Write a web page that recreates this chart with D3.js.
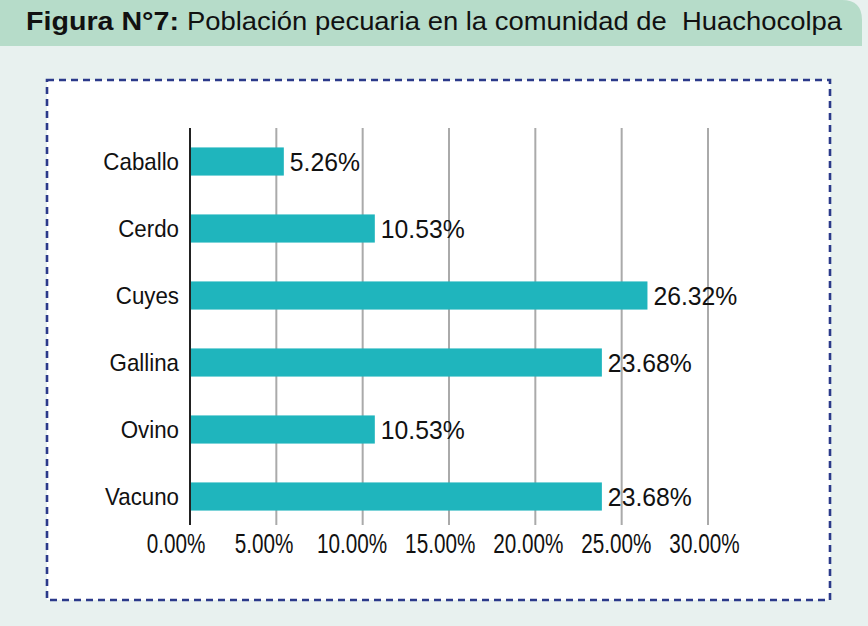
<!DOCTYPE html>
<html>
<head>
<meta charset="utf-8">
<script src="https://cdn.jsdelivr.net/npm/d3@7"></script>
<style>
  body { margin: 0; background: #e8f1ef; }
  text { font-family: "Liberation Sans", Arial, sans-serif; }
</style>
</head>
<body>
<script>
var categories = ["Caballo", "Cerdo", "Cuyes", "Gallina", "Ovino", "Vacuno"];
var values = [5.26, 10.53, 26.32, 23.68, 10.53, 23.68];
var ticks = [0, 5, 10, 15, 20, 25, 30];

var barColor = "#1fb5bd";
var headerColor = "#b6dcc9";
var bgColor = "#e8f1ef";
var dashColor = "#2b3a8a";

var width = 868, height = 626;

var svg = d3.select("body").append("svg")
    .attr("width", width)
    .attr("height", height);

svg.append("rect")
    .attr("width", width)
    .attr("height", height)
    .style("fill", bgColor);

// Header band with rounded top-right corner
svg.append("path")
    .attr("d", "M0,0 H842 Q862,0 862,20 V46 H0 Z")
    .style("fill", headerColor);

svg.append("text")
    .attr("x", 26)
    .attr("y", 30)
    .attr("textLength", 153)
    .attr("lengthAdjust", "spacingAndGlyphs")
    .style("font-size", "26px")
    .style("font-weight", "bold")
    .style("fill", "#111")
    .text("Figura N°7:");

svg.append("text")
    .attr("x", 187)
    .attr("y", 30)
    .attr("textLength", 655)
    .attr("lengthAdjust", "spacingAndGlyphs")
    .style("font-size", "26px")
    .style("fill", "#111")
    .style("white-space", "pre")
    .text("Población pecuaria en la comunidad de  Huachocolpa");

// Dashed box
svg.append("rect")
    .attr("x", 47)
    .attr("y", 80)
    .attr("width", 783)
    .attr("height", 520)
    .style("fill", "#fff")
    .style("stroke", dashColor)
    .style("stroke-width", 2.6)
    .style("stroke-dasharray", "7,5");

var x = d3.scaleLinear().domain([0, 30]).range([190, 708]);
// tick labels sit on a slightly wider spacing than the gridlines
var xLabel = d3.scaleLinear().domain([0, 30]).range([176, 704.5]);
var y = d3.scaleBand().domain(categories).range([128, 530]).paddingInner(0.58).paddingOuter(0.29);

// Gridlines
svg.selectAll(".grid")
    .data(ticks)
    .enter().append("line")
    .attr("class", "grid")
    .attr("x1", d => x(d))
    .attr("x2", d => x(d))
    .attr("y1", 128)
    .attr("y2", 525)
    .style("stroke", d => d === 0 ? "#222" : "#aaa")
    .style("stroke-width", 2);

// Bars
svg.selectAll(".bar")
    .data(values)
    .enter().append("rect")
    .attr("class", "bar")
    .attr("x", x(0) + 1)
    .attr("y", (d, i) => y(categories[i]))
    .attr("width", d => x(d) - x(0) + 2)
    .attr("height", y.bandwidth())
    .style("fill", barColor);

// Value labels
svg.selectAll(".val")
    .data(values)
    .enter().append("text")
    .attr("class", "val")
    .attr("transform", (d, i) => "translate(" + (x(d) + 9) + "," + (y(categories[i]) + y.bandwidth() / 2) + ") scale(0.99,1)")
    .attr("dy", "0.36em")
    .style("font-size", "25px")
    .style("fill", "#111")
    .text(d => d.toFixed(2) + "%");

// Category labels
svg.selectAll(".cat")
    .data(categories)
    .enter().append("text")
    .attr("class", "cat")
    .attr("transform", d => "translate(179," + (y(d) + y.bandwidth() / 2) + ") scale(0.93,1)")
    .attr("dy", "0.36em")
    .attr("text-anchor", "end")
    .style("font-size", "24px")
    .style("fill", "#111")
    .text(d => d);

// Tick labels
svg.selectAll(".tick-label")
    .data(ticks)
    .enter().append("text")
    .attr("class", "tick-label")
    .attr("transform", d => "translate(" + xLabel(d) + ",553) scale(0.74,1)")
    .attr("text-anchor", "middle")
    .style("font-size", "28px")
    .style("fill", "#111")
    .text(d => d.toFixed(2) + "%");
</script>
</body>
</html>
